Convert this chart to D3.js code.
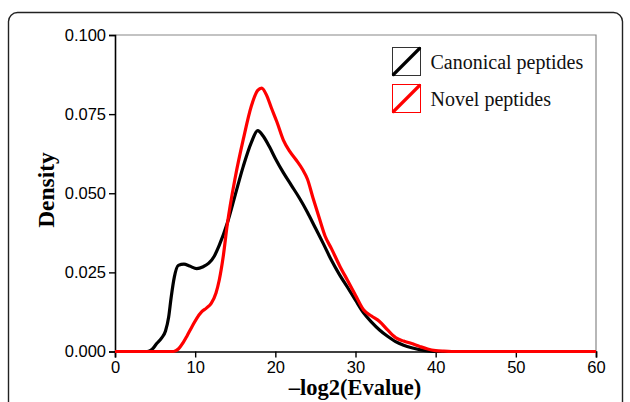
<!DOCTYPE html>
<html>
<head>
<meta charset="utf-8">
<script src="https://cdn.jsdelivr.net/npm/d3@7"></script>
<style>
  body { margin: 0; background: #fff; }
  svg { display: block; }
</style>
</head>
<body>
<svg id="chart" width="630" height="402"></svg>
<script>

// values
var canonX = [0, 4, 4.6, 5.2, 5.8, 6.3, 6.7, 7, 7.4, 7.9, 8.6, 9.3, 10.2, 11, 11.7, 12.4, 13, 14, 15, 16, 17, 17.8, 18.5, 19.3, 20, 21, 22, 23, 24, 25, 26, 27, 28, 29, 30, 31, 32, 33, 34, 35, 36, 37, 38, 39, 40, 60];
var canonY = [0, 0, 0.0006, 0.0025, 0.0042, 0.0065, 0.011, 0.017, 0.0235, 0.0272, 0.0276, 0.027, 0.0262, 0.0268, 0.0279, 0.0302, 0.0335, 0.0405, 0.0495, 0.0585, 0.066, 0.0698, 0.068, 0.0645, 0.061, 0.0565, 0.0525, 0.0485, 0.044, 0.039, 0.034, 0.0288, 0.0243, 0.0203, 0.0162, 0.0122, 0.0093, 0.0068, 0.0048, 0.0031, 0.002, 0.0012, 0.0006, 0.0002, 0, 0];

var novelX = [0, 7.3, 7.9, 8.5, 9, 9.6, 10.2, 10.8, 11.4, 12, 12.6, 13, 13.5, 14, 15, 16, 17, 17.8, 18.3, 18.9, 19.5, 20.2, 21, 21.8, 22.6, 23.4, 24, 24.7, 25.5, 26.2, 27, 28, 29, 30, 31, 32, 33, 34, 35, 36, 37, 38, 39, 40, 41, 42, 60];
var novelY = [0, 0, 0.0008, 0.0028, 0.005, 0.0078, 0.0105, 0.0125, 0.0137, 0.0152, 0.0185, 0.0225, 0.03, 0.04, 0.055, 0.067, 0.0775, 0.0825, 0.0832, 0.081, 0.077, 0.0725, 0.0668, 0.0632, 0.0605, 0.0575, 0.0545, 0.0485, 0.042, 0.0365, 0.0325, 0.0272, 0.0225, 0.0178, 0.0132, 0.0112, 0.0095, 0.0068, 0.0044, 0.0033, 0.0025, 0.0016, 0.0008, 0.0003, 0.0001, 0, 0];

var xTicks = [0, 10, 20, 30, 40, 50, 60];
var yTicks = [0, 0.025, 0.05, 0.075, 0.1];
var seriesNames = ["Canonical peptides", "Novel peptides"];
var seriesColors = ["#000000", "#ff0000"];

var svg = d3.select("#chart");

// outer rounded frame (runs off the bottom of the picture)
svg.append("rect")
  .attr("x", 8.5).attr("y", 12.5)
  .attr("width", 614).attr("height", 430)
  .attr("rx", 9).attr("ry", 9)
  .style("fill", "none")
  .style("stroke", "#222")
  .style("stroke-width", 1.4);

var plotL = 115, plotR = 596, plotT = 35, plotB = 351.5;

var x = d3.scaleLinear().domain([0, 60]).range([plotL, plotR]);
var y = d3.scaleLinear().domain([0, 0.1]).range([plotB, plotT]);

// gray top and right frame
svg.append("path")
  .attr("d", "M" + plotL + "," + plotT + "H" + plotR + "V" + plotB)
  .style("fill", "none")
  .style("stroke", "#888")
  .style("stroke-width", 1.2);

var xAxis = svg.append("g")
  .attr("transform", "translate(0," + plotB + ")")
  .call(d3.axisBottom(x).tickValues(xTicks).tickSize(6).tickPadding(4).tickFormat(d3.format("d")));

var yAxis = svg.append("g")
  .attr("transform", "translate(" + plotL + ",0)")
  .call(d3.axisLeft(y).tickValues(yTicks).tickSize(6).tickPadding(3).tickFormat(d3.format(".3f")));

[xAxis, yAxis].forEach(function(ax){
  ax.select(".domain").style("stroke", "#000").style("stroke-width", 1.6);
  ax.selectAll(".tick line").style("stroke", "#000").style("stroke-width", 1.4);
  ax.selectAll(".tick text")
    .style("font-family", "'Liberation Sans', Arial, sans-serif")
    .style("font-size", "16.5px")
    .style("fill", "#000");
});

var line = d3.line()
  .x(function(d){ return x(d[0]); })
  .y(function(d){ return y(d[1]); })
  .curve(d3.curveMonotoneX);

var series = [
  d3.zip(canonX, canonY),
  d3.zip(novelX, novelY)
];

svg.selectAll("path.dens")
  .data(series)
  .enter().append("path")
  .attr("class", "dens")
  .attr("d", line)
  .style("fill", "none")
  .style("stroke", function(d, i){ return seriesColors[i]; })
  .style("stroke-width", 3.2)
  .style("stroke-linejoin", "round");

// axis titles
svg.append("text")
  .attr("x", 355).attr("y", 395)
  .attr("text-anchor", "middle")
  .style("font-family", "'Liberation Serif', 'Times New Roman', serif")
  .style("font-weight", "bold")
  .style("font-size", "22.5px")
  .text("\u2013log2(Evalue)");

svg.append("text")
  .attr("transform", "translate(54,190) rotate(-90)")
  .attr("text-anchor", "middle")
  .style("font-family", "'Liberation Serif', 'Times New Roman', serif")
  .style("font-weight", "bold")
  .style("font-size", "23.5px")
  .text("Density");

// legend
var legend = svg.selectAll("g.leg")
  .data(seriesNames)
  .enter().append("g")
  .attr("class", "leg")
  .attr("transform", function(d, i){ return "translate(392.5," + (47.5 + i * 37) + ")"; });

legend.append("rect")
  .attr("width", 28).attr("height", 28)
  .style("fill", "#fff")
  .style("stroke", function(d, i){ return i === 0 ? "#333" : seriesColors[i]; })
  .style("stroke-width", 1);

legend.append("line")
  .attr("x1", 1).attr("y1", 27).attr("x2", 27).attr("y2", 1)
  .style("stroke", function(d, i){ return seriesColors[i]; })
  .style("stroke-width", 3.2)
  .style("stroke-linecap", "round");

legend.append("text")
  .attr("x", 38).attr("y", 21)
  .style("font-family", "'Liberation Serif', 'Times New Roman', serif")
  .style("font-size", "20px")
  .style("fill", "#111")
  .text(function(d){ return d; });

</script>
</body>
</html>
